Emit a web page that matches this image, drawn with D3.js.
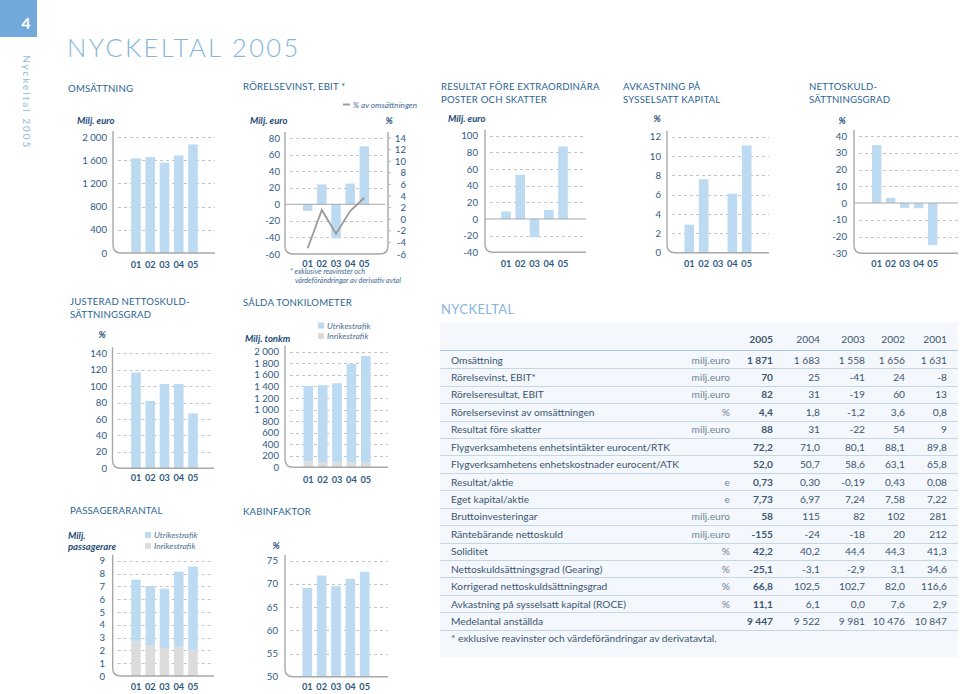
<!DOCTYPE html>
<html><head><meta charset="utf-8">
<script src="https://cdn.jsdelivr.net/npm/d3@7"></script>
<style>
html,body{margin:0;padding:0;background:#fff;}
svg{display:block;font-family:Lato,"Open Sans",sans-serif;}
</style></head>
<body><svg id="c" width="960" height="694"></svg>
<script>
// ---------- DATA ----------
const years = ["01","02","03","04","05"];
const omsattning = [1631,1656,1558,1683,1871];
const omsattningTicks = [0,400,800,1200,1600,2000];
const rorelsevinst = [-8,24,-41,25,70];
const rorelsevinstTicks = [-60,-40,-20,0,20,40,60,80];
const rorelsevinstPct = [-5.0,1.6,-2.5,1.4,3.7];
const rorelsevinstPctTicks = [-6,-4,-2,0,2,4,6,8,10,12,14];
const resultatForeSkatt = [9,53,-22,11,87];
const resultatTicks = [-40,-20,0,20,40,60,80,100];
const avkastning = [2.9,7.6,0.0,6.1,11.1];
const avkastningTicks = [0,2,4,6,8,10,12];
const nettoskuld = [34.6,3.1,-2.9,-3.1,-25.1];
const nettoskuldTicks = [-30,-20,-10,0,10,20,30,40];
const justeradNettoskuld = [116.6,82.0,102.7,102.5,66.8];
const justeradTicks = [0,20,40,60,80,100,120,140];
const passInrikes = [2.68,2.37,2.19,2.29,2.05];
const passUtrikes = [4.84,4.66,4.63,5.86,6.49];
const passTicks = [0,1,2,3,4,5,6,7,8,9];
const tonkmInrikes = [100,85,85,85,80];
const tonkmUtrikes = [1310,1335,1370,1700,1845];
const tonkmTicks = [0,200,400,600,800,1000,1200,1400,1600,1800,2000];
const kabinfaktor = [69.1,71.8,69.5,71.1,72.6];
const kabinTicks = [50,55,60,65,70,75];

const tableYears = ["2005","2004","2003","2002","2001"];
const tableLabels = ["Omsättning","Rörelsevinst, EBIT*","Rörelseresultat, EBIT","Rörelsersevinst av omsättningen","Resultat före skatter","Flygverksamhetens enhetsintäkter eurocent/RTK","Flygverksamhetens enhetskostnader eurocent/ATK","Resultat/aktie","Eget kapital/aktie","Bruttoinvesteringar","Räntebärande nettoskuld","Soliditet","Nettoskuldsättningsgrad (Gearing)","Korrigerad nettoskuldsättningsgrad","Avkastning på sysselsatt kapital (ROCE)","Medelantal anställda"];
const tableUnits = ["milj.euro","milj.euro","milj.euro","%","milj.euro","","","e","e","milj.euro","milj.euro","%","%","%","%",""];
const tableValues = [
 ["1 871","1 683","1 558","1 656","1 631"],
 ["70","25","-41","24","-8"],
 ["82","31","-19","60","13"],
 ["4,4","1,8","-1,2","3,6","0,8"],
 ["88","31","-22","54","9"],
 ["72,2","71,0","80,1","88,1","89,8"],
 ["52,0","50,7","58,6","63,1","65,8"],
 ["0,73","0,30","-0,19","0,43","0,08"],
 ["7,73","6,97","7,24","7,58","7,22"],
 ["58","115","82","102","281"],
 ["-155","-24","-18","20","212"],
 ["42,2","40,2","44,4","44,3","41,3"],
 ["-25,1","-3,1","-2,9","3,1","34,6"],
 ["66,8","102,5","102,7","82,0","116,6"],
 ["11,1","6,1","0,0","7,6","2,9"],
 ["9 447","9 522","9 981","10 476","10 847"]
];
const tableNote = "* exklusive reavinster och värdeförändringar av derivatavtal.";

// ---------- STYLE ----------
const C = {
  bar:"#bcdaf2", gray:"#dcdcdc", grid:"#b4b4b4", axis:"#a8a8a8",
  title:"#2c6494", tick:"#2f5a82", unit:"#1f4c78", light:"#8dbbe0", table:"#3b5670"
};
const loc = d3.formatLocale({decimal:",",thousands:" ",grouping:[3],currency:["","€"],minus:"-"});
const svg = d3.select("#c");

// ---------- PAGE FRAME ----------
svg.append("rect").attr("x",0).attr("y",0).attr("width",37).attr("height",37).attr("fill","#71a9da");
svg.append("text").attr("x",26).attr("y",29).attr("fill","#fff").attr("font-size",16).attr("font-weight",700)
  .attr("text-anchor","middle").text("4");
svg.append("text").attr("transform","translate(23,55) rotate(90)").attr("fill",C.light)
  .attr("font-size",10).attr("letter-spacing",2).text("Nyckeltal 2005");
svg.append("text").attr("x",67).attr("y",57).attr("fill","#86b6dc").attr("font-size",25.5)
  .attr("letter-spacing",2.4).attr("font-weight",300).text("NYCKELTAL 2005");

function title(x,y,lines){
  lines.forEach((t,i)=>svg.append("text").attr("x",x).attr("y",y+i*13).attr("fill",C.title)
    .attr("font-size",9.6).attr("letter-spacing",0.2).attr("dominant-baseline","central").text(t));
}
function unitText(x,y,t,anchor){
  svg.append("text").attr("x",x).attr("y",y).attr("fill",C.unit).attr("font-size",9.5)
   .attr("font-weight",700).attr("font-style","italic").attr("dominant-baseline","central")
   .attr("text-anchor",anchor||"start").text(t);
}
function legendItem(x,y,color,t){
  svg.append("rect").attr("x",x).attr("y",y-3).attr("width",6).attr("height",6).attr("fill",color);
  svg.append("text").attr("x",x+9).attr("y",y).attr("fill","#4a6f92").attr("font-size",8.5)
   .attr("font-style","italic").attr("dominant-baseline","central").text(t);
}

// ---------- GENERIC BAR CHART ----------
function barChart(cfg){
  const g = svg.append("g");
  const y = d3.scaleLinear().domain(cfg.domain).range(cfg.yRange);
  const step = (cfg.bars[1]-cfg.bars[0])/4;
  const x = d3.scaleBand().domain(years).range([cfg.bars[0]-step/2,cfg.bars[1]+step/2])
     .paddingInner(0.33).paddingOuter(0.165);
  const gl = cfg.gridL || cfg.axisX+5;
  // grid
  g.selectAll(".grid").data(cfg.ticks.filter(t=>t!==cfg.domain[0] && !(cfg.zero && t===0))).enter().append("line")
    .attr("x1",gl).attr("x2",cfg.gridR).attr("y1",d=>Math.round(y(d))+0.5).attr("y2",d=>Math.round(y(d))+0.5)
    .attr("stroke",C.grid).attr("stroke-width",0.8).attr("stroke-dasharray","3,3");
  // bars
  if(cfg.stack){
    const stackData = years.map((yr,i)=>({yr, inr:cfg.stack[0][i], utr:cfg.stack[1][i]}));
    const series = d3.stack().keys(["inr","utr"])(stackData);
    const colors = [C.gray,C.bar];
    series.forEach((s,k)=>{
      g.selectAll(null).data(s).enter().append("rect")
       .attr("x",d=>x(d.data.yr)).attr("width",x.bandwidth())
       .attr("y",d=>y(d[1])).attr("height",d=>y(d[0])-y(d[1])).attr("fill",colors[k]);
    });
  } else {
    const base = Math.max(cfg.domain[0],0);
    g.selectAll(null).data(cfg.values).enter().append("rect")
     .attr("x",(d,i)=>x(years[i])).attr("width",x.bandwidth())
     .attr("y",d=>Math.min(y(d),y(base))).attr("height",d=>Math.abs(y(d)-y(base)))
     .attr("fill",C.bar);
  }
  // zero line
  if(cfg.zero){
    g.append("line").attr("x1",cfg.axisX).attr("x2",cfg.gridR).attr("y1",y(0)).attr("y2",y(0))
     .attr("stroke",C.axis).attr("stroke-width",1);
  }
  // axis frame with rounded corner
  const bot = y(cfg.domain[0]), top = y(cfg.domain[1])-6, r = 8, ax = cfg.axisX;
  let p = `M${ax},${top}L${ax},${bot-r}Q${ax},${bot} ${ax+r},${bot}`;
  if(cfg.rightAxisX){
    const rx = cfg.rightAxisX;
    p += `L${rx-r},${bot}Q${rx},${bot} ${rx},${bot-r}L${rx},${top}`;
  } else {
    p += `L${cfg.gridR},${bot}`;
  }
  g.append("path").attr("d",p).attr("fill","none").attr("stroke",C.axis).attr("stroke-width",1.4);
  // y labels
  const fmt = cfg.fmt || loc.format(",d");
  const ya = g.append("g").attr("transform",`translate(${cfg.labelX},0)`)
    .call(d3.axisLeft(y).tickValues(cfg.ticks).tickSize(0).tickPadding(0).tickFormat(fmt));
  ya.select(".domain").remove();
  ya.selectAll("text").attr("fill",C.tick).attr("font-size",9.6).attr("font-family","Lato,sans-serif");
  // x labels
  const xa = g.append("g").attr("transform",`translate(0,${cfg.xLabelY})`)
    .call(d3.axisBottom(x).tickSize(0).tickPadding(0));
  xa.select(".domain").remove();
  xa.selectAll("text").attr("fill",C.tick).attr("font-size",9.2).attr("font-weight",700)
    .attr("dy","0.32em").attr("font-family","Lato,sans-serif");
  return {g,x,y};
}

// 1 Omsättning
title(68,88,["OMSÄTTNING"]);
unitText(77,120,"Milj. euro");
barChart({domain:[0,2000],yRange:[253,137],ticks:omsattningTicks,values:omsattning,
  axisX:113,gridR:215,labelX:107,bars:[136,193],xLabelY:265});

// 2 Rörelsevinst
title(243,86,["RÖRELSEVINST, EBIT *"]);
unitText(250,120,"Milj. euro");
unitText(389,120,"%","middle");
svg.append("line").attr("x1",343).attr("x2",350).attr("y1",104.5).attr("y2",104.5).attr("stroke","#9a9a9a").attr("stroke-width",2);
svg.append("text").attr("x",353).attr("y",104.5).attr("fill","#3d6a94").attr("font-size",8.2)
  .attr("font-style","italic").attr("dominant-baseline","central").text("% av omsättningen");
const r2 = barChart({domain:[-60,80],yRange:[254,138],ticks:rorelsevinstTicks,values:rorelsevinst,zero:true,
  axisX:285,rightAxisX:388,gridL:290,gridR:385,labelX:280,bars:[307.7,364.3],xLabelY:264});
{
  const yR = d3.scaleLinear().domain([-6,14]).range([254,138]);
  const ra = svg.append("g").attr("transform","translate(406,0)")
    .call(d3.axisLeft(yR).tickValues(rorelsevinstPctTicks).tickSize(0).tickPadding(0).tickFormat(loc.format("d")));
  ra.select(".domain").remove();
  ra.selectAll("text").attr("fill",C.tick).attr("font-size",9.6).attr("font-family","Lato,sans-serif");
  svg.append("g").selectAll("line").data(rorelsevinstPctTicks.filter(t=>t>-6)).enter().append("line")
    .attr("x1",388).attr("x2",391).attr("y1",d=>yR(d)).attr("y2",d=>yR(d)).attr("stroke",C.axis).attr("stroke-width",0.8);
  const line = d3.line().x((d,i)=>r2.x(years[i])+r2.x.bandwidth()/2).y(d=>yR(d));
  svg.append("path").datum(rorelsevinstPct).attr("d",line).attr("fill","none")
    .attr("stroke","#9a9a9a").attr("stroke-width",1.8);
}
svg.append("text").attr("x",290).attr("y",274).attr("fill","#3d6a94").attr("font-size",7.2)
  .attr("font-style","italic").text("*  exklusive reavinster och");
svg.append("text").attr("x",295).attr("y",282.5).attr("fill","#3d6a94").attr("font-size",7.2)
  .attr("font-style","italic").text("värdeförändringar av derivativ avtal");

// 3 Resultat före
title(441,86,["RESULTAT FÖRE EXTRAORDINÄRA","POSTER OCH SKATTER"]);
unitText(448,118,"Milj. euro");
barChart({domain:[-40,100],yRange:[252.3,135.7],ticks:resultatTicks,values:resultatForeSkatt,zero:true,
  axisX:485,gridR:586,labelX:478,bars:[506,563],xLabelY:264});

// 4 Avkastning
title(623,86,["AVKASTNING PÅ","SYSSELSATT KAPITAL"]);
unitText(657,118,"%","middle");
barChart({domain:[0,12],yRange:[252.7,136.7],ticks:avkastningTicks,values:avkastning,
  axisX:667,gridR:769,labelX:661,bars:[689.3,746.7],xLabelY:264});

// 5 Nettoskuld
title(809,86,["NETTOSKULD-","SÄTTNINGSGRAD"]);
unitText(842,120,"%","middle");
barChart({domain:[-30,40],yRange:[253.3,136],ticks:nettoskuldTicks,values:nettoskuld,zero:true,
  axisX:854,gridR:958,labelX:847,bars:[876.7,932.7],xLabelY:264});

// 6 Justerad nettoskuld
title(70,301.5,["JUSTERAD NETTOSKULD-","SÄTTNINGSGRAD"]);
unitText(102,334,"%","middle");
barChart({domain:[0,140],yRange:[468.3,353.3],ticks:justeradTicks,values:justeradNettoskuld,
  axisX:112.5,gridR:214,labelX:107,bars:[136,193],xLabelY:478});

// 7 Passagerarantal
title(70,510.5,["PASSAGERARANTAL"]);
unitText(68,535.5,"Milj.");
unitText(68,546.5,"passagerare");
legendItem(145,535,C.bar,"Utrikestrafik");
legendItem(145,546,C.gray,"Inrikestrafik");
barChart({domain:[0,9],yRange:[676,560.7],ticks:passTicks,stack:[passInrikes,passUtrikes],
  axisX:112.7,gridR:214,labelX:105,bars:[136,193],xLabelY:687});

// 8 Sålda tonkilometer
title(243,302.5,["SÅLDA TONKILOMETER"]);
legendItem(318,325.5,C.bar,"Utrikestrafik");
legendItem(318,336,C.gray,"Inrikestrafik");
unitText(245,338,"Milj. tonkm");
barChart({domain:[0,2000],yRange:[467.3,351.7],ticks:tonkmTicks,stack:[tonkmInrikes,tonkmUtrikes],
  axisX:285,gridR:388,labelX:279,bars:[308.3,365.8],xLabelY:480});

// 9 Kabinfaktor
title(243,511,["KABINFAKTOR"]);
unitText(276,545.5,"%","middle");
barChart({domain:[50,75],yRange:[676.7,560.7],ticks:kabinTicks,values:kabinfaktor,
  axisX:285,gridR:388,labelX:278,bars:[307.3,364.7],xLabelY:687});

// ---------- TABLE ----------
svg.append("text").attr("x",441).attr("y",309).attr("fill","#86b6dc").attr("font-size",13)
  .attr("letter-spacing",0.4).attr("dominant-baseline","central").text("NYCKELTAL");
svg.append("rect").attr("x",440).attr("y",322).attr("width",518).attr("height",335).attr("fill","#f4f8fc");
const colRight = [773,820,865,905,947];
const rowY = d3.scaleLinear().domain([0,15]).range([359.5,621]);
const tg = svg.append("g").attr("font-size",10.2).attr("fill",C.table);
tg.selectAll(null).data(tableYears).enter().append("text")
  .attr("x",(d,i)=>colRight[i]).attr("y",339).attr("text-anchor","end").attr("dominant-baseline","central")
  .attr("font-weight",(d,i)=>i===0?700:400).text(d=>d);
tg.append("line").attr("x1",440).attr("x2",958).attr("y1",350.5).attr("y2",350.5).attr("stroke","#a9c6de").attr("stroke-width",1.2);
tableLabels.forEach((lab,r)=>{
  const yy = rowY(r);
  tg.append("text").attr("x",451).attr("y",yy).attr("dominant-baseline","central").text(lab);
  tg.append("text").attr("x",730).attr("y",yy).attr("text-anchor","end").attr("dominant-baseline","central")
    .attr("fill","#6d8499").text(tableUnits[r]);
  tableValues[r].forEach((v,c)=>{
    tg.append("text").attr("x",colRight[c]).attr("y",yy).attr("text-anchor","end").attr("dominant-baseline","central")
      .attr("font-weight",c===0?700:400).text(v);
  });
  tg.append("line").attr("x1",440).attr("x2",958).attr("y1",Math.round(yy+8.7)+0.5).attr("y2",Math.round(yy+8.7)+0.5)
    .attr("stroke","#c3d7e7").attr("stroke-width",1);
});
tg.append("text").attr("x",451).attr("y",638).attr("dominant-baseline","central").text(tableNote);
</script></body></html>
